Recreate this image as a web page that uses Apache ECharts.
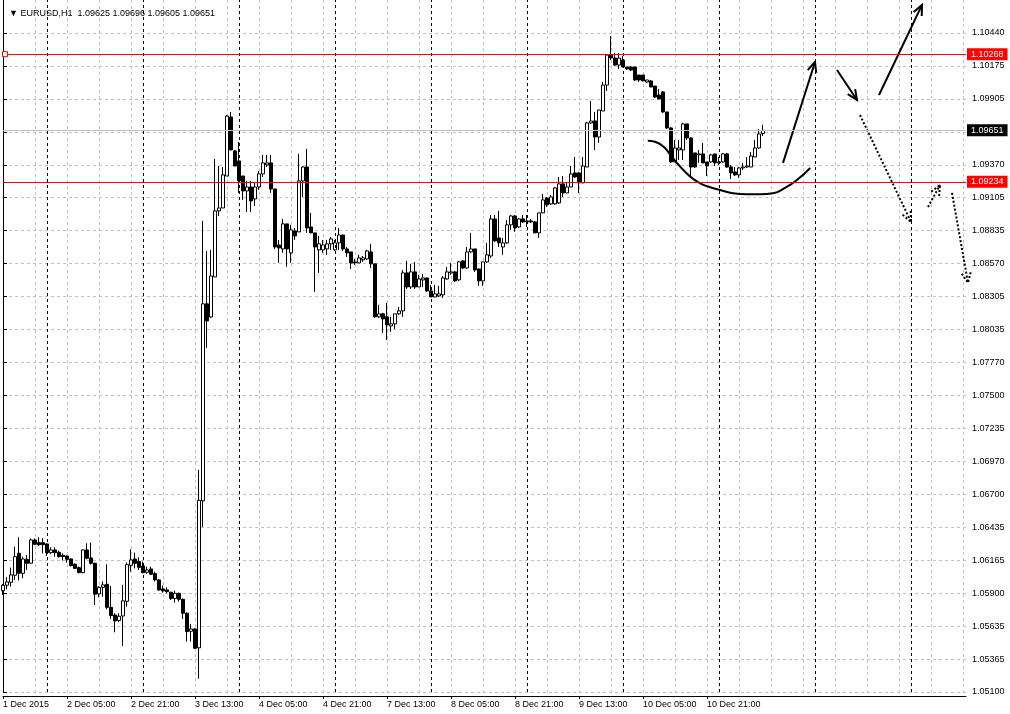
<!DOCTYPE html>
<html><head><meta charset="utf-8">
<script src="https://cdn.jsdelivr.net/npm/echarts@6/dist/echarts.min.js"></script>
<style>html,body{margin:0;padding:0;background:#fff}#c{width:1010px;height:714px}</style>
</head><body><div id="c"></div>
<script>
// ---- data ----
const symbolName = 'EURUSD,H1';
const opens = [1.05921,1.05965,1.05989,1.06046,1.06224,1.06062,1.06175,1.06143,1.06332,1.06310,1.06310,1.06300,1.06229,1.06251,1.06232,1.06208,1.06202,1.06178,1.06135,1.06108,
1.06067,1.06251,1.06186,1.06143,1.05895,1.05948,1.05973,1.05786,1.05724,1.05679,1.05716,1.05835,1.06127,1.06178,1.06157,1.06121,1.06070,1.06097,1.06059,1.06008,
1.05935,1.05927,1.05908,1.05857,1.05900,1.05851,1.05738,1.05592,1.05611,1.05458,1.06649,1.08245,1.08139,1.08463,1.08998,1.09022,1.09281,1.09759,1.09484,1.09403,
1.09281,1.09160,1.09192,1.09095,1.09192,1.09298,1.09371,1.09387,1.09176,1.08722,1.08690,1.08893,1.08658,1.08836,1.08828,1.09241,1.09354,1.08868,1.08820,1.08682,
1.08682,1.08690,1.08731,1.08682,1.08739,1.08803,1.08690,1.08666,1.08585,1.08577,1.08601,1.08609,1.08666,1.08569,1.08140,1.08164,1.08140,1.08066,1.08083,1.08164,
1.08188,1.08496,1.08382,1.08504,1.08382,1.08439,1.08455,1.08350,1.08301,1.08309,1.08318,1.08447,1.08496,1.08504,1.08439,1.08593,1.08536,1.08666,1.08690,1.08528,
1.08431,1.08585,1.08633,1.08933,1.08779,1.08706,1.08739,1.08885,1.08957,1.08868,1.08933,1.08909,1.08917,1.08909,1.08820,1.08982,1.09103,1.09055,1.09055,1.09063,
1.09217,1.09144,1.09192,1.09306,1.09306,1.09225,1.09354,1.09711,1.09727,1.09597,1.09808,1.10018,1.10261,1.10237,1.10180,1.10221,1.10164,1.10164,1.10164,1.10099,
1.10099,1.10043,1.10051,1.10010,1.09937,1.09962,1.09800,1.09670,1.09395,1.09492,1.09492,1.09703,1.09589,1.09468,1.09452,1.09460,1.09395,1.09395,1.09460,1.09387,
1.09395,1.09460,1.09354,1.09314,1.09290,1.09346,1.09354,1.09354,1.09435,1.09508,1.09625];
const closes = [1.05965,1.05992,1.06049,1.06197,1.06062,1.06178,1.06143,1.06332,1.06297,1.06294,1.06294,1.06229,1.06251,1.06229,1.06197,1.06197,1.06175,1.06124,1.06102,1.06067,
1.06251,1.06184,1.06143,1.05892,1.05948,1.05968,1.05786,1.05719,1.05676,1.05714,1.05838,1.06132,1.06170,1.06143,1.06110,1.06067,1.06089,1.06054,1.06008,1.05927,
1.05919,1.05913,1.05857,1.05900,1.05851,1.05738,1.05589,1.05611,1.05454,1.06653,1.08245,1.08107,1.08471,1.08998,1.09022,1.09290,1.09767,1.09492,1.09362,1.09241,
1.09160,1.09192,1.09079,1.09192,1.09298,1.09387,1.09387,1.09176,1.08706,1.08698,1.08893,1.08690,1.08844,1.08795,1.09241,1.09354,1.08860,1.08820,1.08706,1.08731,
1.08722,1.08731,1.08771,1.08739,1.08803,1.08690,1.08658,1.08577,1.08577,1.08617,1.08617,1.08674,1.08569,1.08140,1.08164,1.08123,1.08075,1.08083,1.08164,1.08188,
1.08496,1.08382,1.08504,1.08382,1.08447,1.08455,1.08350,1.08301,1.08326,1.08326,1.08455,1.08504,1.08504,1.08431,1.08585,1.08536,1.08666,1.08690,1.08520,1.08431,
1.08585,1.08642,1.08933,1.08755,1.08739,1.08739,1.08885,1.08957,1.08860,1.08933,1.08909,1.08917,1.08909,1.08820,1.08982,1.09087,1.09047,1.09111,1.09184,1.09217,
1.09144,1.09192,1.09298,1.09273,1.09225,1.09362,1.09711,1.09727,1.09597,1.09816,1.10018,1.10261,1.10237,1.10180,1.10237,1.10164,1.10148,1.10140,1.10059,1.10059,
1.10051,1.10059,1.10002,1.09921,1.09905,1.09800,1.09670,1.09395,1.09508,1.09508,1.09703,1.09589,1.09354,1.09354,1.09460,1.09387,1.09362,1.09452,1.09387,1.09395,
1.09460,1.09354,1.09306,1.09290,1.09346,1.09354,1.09362,1.09443,1.09508,1.09622,1.09651];
const lows = [1.05886,1.05932,1.05954,1.06008,1.06003,1.06022,1.06089,1.06143,1.06292,1.06283,1.06224,1.06202,1.06218,1.06197,1.06189,1.06165,1.06148,1.06116,1.06097,1.06062,
1.06062,1.06175,1.06132,1.05805,1.05867,1.05873,1.05770,1.05692,1.05584,1.05665,1.05473,1.05792,1.06075,1.06102,1.06089,1.06062,1.06057,1.06049,1.05995,1.05921,
1.05905,1.05900,1.05846,1.05824,1.05832,1.05692,1.05508,1.05508,1.05449,1.05207,1.06438,1.07888,1.08131,1.08463,1.08957,1.09022,1.09281,1.09492,1.09362,1.09144,
1.09087,1.08990,1.08990,1.09038,1.09168,1.09273,1.09354,1.09144,1.08690,1.08577,1.08658,1.08545,1.08577,1.08763,1.08828,1.09111,1.08820,1.08820,1.08342,1.08496,
1.08658,1.08642,1.08682,1.08674,1.08682,1.08674,1.08625,1.08528,1.08561,1.08577,1.08585,1.08601,1.08536,1.08131,1.08131,1.08010,1.07953,1.08018,1.08042,1.08156,
1.08140,1.08366,1.08366,1.08366,1.08382,1.08382,1.08342,1.08301,1.08301,1.08301,1.08293,1.08439,1.08480,1.08423,1.08431,1.08528,1.08528,1.08658,1.08504,1.08391,
1.08391,1.08577,1.08617,1.08747,1.08706,1.08642,1.08731,1.08844,1.08828,1.08860,1.08901,1.08868,1.08901,1.08820,1.08779,1.08982,1.09030,1.09047,1.09047,1.09055,
1.09111,1.09144,1.09192,1.09265,1.09144,1.09225,1.09354,1.09703,1.09492,1.09549,1.09808,1.09970,1.10221,1.10172,1.10148,1.10164,1.10140,1.10132,1.10051,1.10043,
1.10051,1.10035,1.10002,1.09913,1.09905,1.09792,1.09662,1.09387,1.09395,1.09411,1.09411,1.09573,1.09273,1.09346,1.09387,1.09387,1.09281,1.09387,1.09362,1.09371,
1.09387,1.09346,1.09257,1.09281,1.09265,1.09330,1.09346,1.09354,1.09435,1.09500,1.09605];
const highs = [1.05976,1.06030,1.06108,1.06278,1.06354,1.06197,1.06210,1.06345,1.06345,1.06354,1.06345,1.06305,1.06273,1.06273,1.06246,1.06224,1.06208,1.06184,1.06143,1.06116,
1.06256,1.06305,1.06310,1.06148,1.05959,1.05995,1.06135,1.05959,1.05738,1.05738,1.05968,1.06148,1.06256,1.06229,1.06192,1.06157,1.06116,1.06116,1.06075,1.06016,
1.05962,1.05948,1.05913,1.05921,1.05905,1.05857,1.05746,1.05652,1.05617,1.06900,1.08917,1.08674,1.08682,1.09419,1.09362,1.09354,1.09775,1.09800,1.09492,1.09557,
1.09281,1.09241,1.09241,1.09225,1.09322,1.09452,1.09452,1.09452,1.09176,1.08763,1.08933,1.08893,1.08885,1.08860,1.09460,1.09362,1.09500,1.08982,1.08820,1.08795,
1.08763,1.08763,1.08787,1.08763,1.08860,1.08803,1.08706,1.08666,1.08609,1.08642,1.08633,1.08682,1.08731,1.08569,1.08237,1.08172,1.08253,1.08140,1.08164,1.08220,
1.08520,1.08593,1.08569,1.08585,1.08480,1.08488,1.08455,1.08399,1.08399,1.08391,1.08471,1.08545,1.08577,1.08512,1.08593,1.08601,1.08706,1.08820,1.08690,1.08528,
1.08585,1.08739,1.08965,1.08965,1.08998,1.08779,1.08925,1.08965,1.08965,1.08941,1.08965,1.08965,1.08933,1.08917,1.08982,1.09136,1.09111,1.09127,1.09192,1.09273,
1.09281,1.09225,1.09362,1.09435,1.09314,1.09435,1.09719,1.09889,1.09800,1.09816,1.10043,1.10269,1.10415,1.10278,1.10278,1.10253,1.10164,1.10172,1.10164,1.10099,
1.10099,1.10059,1.10059,1.10010,1.09986,1.09970,1.09800,1.09678,1.09573,1.09573,1.09711,1.09703,1.09597,1.09468,1.09492,1.09549,1.09395,1.09460,1.09460,1.09435,
1.09468,1.09468,1.09371,1.09354,1.09354,1.09387,1.09435,1.09476,1.09573,1.09662,1.09696];

const xTickBars = [0,16,32,48,64,80,96,112,128,144,160,176];
const xTickLabels = ['1 Dec 2015','2 Dec 05:00','2 Dec 21:00','3 Dec 13:00','4 Dec 05:00','4 Dec 21:00','7 Dec 13:00','8 Dec 05:00','8 Dec 21:00','9 Dec 13:00','10 Dec 05:00','10 Dec 21:00'];
const daySeparatorBars = [11,35,59,83,107,131,155,179,203,227];
const yTickLabels = ['1.05100','1.05365','1.05635','1.05900','1.06165','1.06435','1.06700','1.06970','1.07235','1.07500','1.07770','1.08035','1.08305','1.08570','1.08835','1.09105','1.09370','1.09640','1.09905','1.10175','1.10440'];
const levelLines = [1.10268, 1.09234];
// hand-drawn annotations: [barFrom, priceFrom, barTo, priceTo, dotted]
const arrows = [
  [195.0, 1.09387, 203.0, 1.10205, 0],
  [208.5, 1.10140, 213.5, 1.09897, 0],
  [219.0, 1.09937, 229.75, 1.10667, 0],
  [214.25, 1.09775, 227.0, 1.08909, 1],
  [231.25, 1.09030, 234.25, 1.09208, 1],
  [237.25, 1.09144, 241.25, 1.08415, 1]
];
const bowlBars =   [161.2, 163.0, 165.1, 167.2, 169.3, 171.8, 174.3, 176.8, 179.3, 182.5, 186.0, 189.3, 192.5, 195.5, 198.5, 201.8];
const bowlPrices = [1.09567,1.09559,1.09519,1.09438,1.09357,1.09276,1.09222,1.09190,1.09168,1.09141,1.09133,1.09133,1.09141,1.09184,1.09249,1.09346];

// ---- chart ----
const yMin = 1.05100, yStep = 0.00267, yMax = 1.10707;
const font = '"Liberation Sans", Arial, sans-serif';
const candles = opens.map((o, i) => [i, o, closes[i], lows[i], highs[i]]);
const last = candles.length - 1;
const titleText = '\u25BC ' + symbolName + '  ' + [opens[last], highs[last], lows[last], closes[last]].map(v => v.toFixed(5)).join(' ');
const bowl = bowlBars.map((b, i) => [b, bowlPrices[i]]);

const chart = echarts.init(document.getElementById('c'), null, {renderer: 'canvas'});
const priceLabel = (bg) => ({show: true, position: 'end', distance: 1, formatter: p => Number(p.value).toFixed(5),
  backgroundColor: bg, color: '#fff', padding: [2, 4, 1, 4], fontSize: 9, fontFamily: font});

chart.setOption({
  animation: false,
  backgroundColor: '#fff',
  title: {text: titleText, left: 4, top: 4, textStyle: {fontSize: 9, fontWeight: 'normal', color: '#000', fontFamily: font}},
  grid: {left: 3, right: 44, top: 0, bottom: 22, containLabel: false},
  xAxis: [
    {type: 'value', min: 0, max: 240.75, position: 'bottom', offset: 4,
     axisLine: {show: true, lineStyle: {color: '#000', width: 1}},
     axisTick: {show: true, customValues: xTickBars, length: 3, lineStyle: {color: '#000'}},
     axisLabel: {show: true, customValues: xTickBars, align: 'left', margin: 4, fontSize: 9, color: '#000', fontFamily: font,
       formatter: v => xTickLabels[xTickBars.indexOf(Math.round(v))] || ''},
     splitLine: {show: false}},
    {type: 'value', min: 0, max: 240.75, interval: 8, position: 'bottom',
     axisLine: {show: false}, axisTick: {show: false}, axisLabel: {show: false},
     splitLine: {show: true, showMinLine: false, showMaxLine: false, lineStyle: {color: '#c0c0c0', type: [3, 3], width: 1}}}
  ],
  yAxis: [
    {type: 'value', position: 'right', min: yMin, max: yMax, interval: yStep, scale: true,
     axisLine: {show: true, lineStyle: {color: '#000', width: 1}},
     axisTick: {show: true, length: 4, lineStyle: {color: '#000'}},
     axisLabel: {show: true, margin: 6, fontSize: 9, color: '#000', fontFamily: font, showMaxLabel: false,
       formatter: v => yTickLabels[Math.round((v - yMin) / yStep)] || ''},
     splitLine: {show: true, showMaxLine: false, lineStyle: {color: '#c0c0c0', type: [3, 3], width: 1}}},
    {type: 'value', position: 'left', offset: 1, min: yMin, max: yMax, scale: true,
     axisLine: {show: true, lineStyle: {color: '#000', width: 1}},
     axisTick: {show: false}, axisLabel: {show: false}, splitLine: {show: false}}
  ],
  series: [
    {type: 'candlestick', xAxisIndex: 0, yAxisIndex: 0, data: candles, encode: {x: 0, y: [1, 2, 3, 4]},
     barWidth: 3, clip: false,
     itemStyle: {color: '#fff', color0: '#000', borderColor: '#000', borderColor0: '#000', borderWidth: 1},
     markLine: {silent: true, symbol: 'none', animation: false, precision: 5,
       data: [
         ...daySeparatorBars.map(b => ({xAxis: b, lineStyle: {color: '#000', type: [3, 3], width: 1}, label: {show: false}})),
         {yAxis: closes[last], lineStyle: {color: '#c0c0c0', type: 'solid', width: 1}, label: priceLabel('#000')},
         ...levelLines.map(v => ({yAxis: v, lineStyle: {color: '#ff0000', type: 'solid', width: 1}, label: priceLabel('#ff0000')}))
       ]},
     markPoint: {silent: true, animation: false, label: {show: false},
       data: [{coord: [0, levelLines[0]], symbol: 'rect', symbolSize: 5, symbolOffset: [2, 0],
               itemStyle: {color: '#fff', borderColor: '#ff0000', borderWidth: 1}}]}
    },
    {type: 'line', xAxisIndex: 0, yAxisIndex: 0, data: bowl, smooth: 0.5, symbol: 'none',
     lineStyle: {color: '#000', width: 2}, silent: true},
    {type: 'custom', xAxisIndex: 0, yAxisIndex: 0, data: arrows, encode: {x: [0, 2], y: [1, 3]}, silent: true, clip: false,
     renderItem: (params, api) => {
       const p1 = api.coord([api.value(0), api.value(1)]);
       const p2 = api.coord([api.value(2), api.value(3)]);
       const ang = Math.atan2(p2[1] - p1[1], p2[0] - p1[0]);
       const L = 11, a = 0.42;
       const h1 = [p2[0] - L * Math.cos(ang - a), p2[1] - L * Math.sin(ang - a)];
       const h2 = [p2[0] - L * Math.cos(ang + a), p2[1] - L * Math.sin(ang + a)];
       const dash = api.value(4) ? [2, 2] : null;
       const st = {stroke: '#000', lineWidth: 2, fill: null, lineDash: dash};
       return {type: 'group', children: [
         {type: 'line', shape: {x1: p1[0], y1: p1[1], x2: p2[0], y2: p2[1]}, style: st},
         {type: 'polyline', shape: {points: [h1, p2, h2]}, style: st}
       ]};
     }}
  ]
});
</script>
</body></html>
